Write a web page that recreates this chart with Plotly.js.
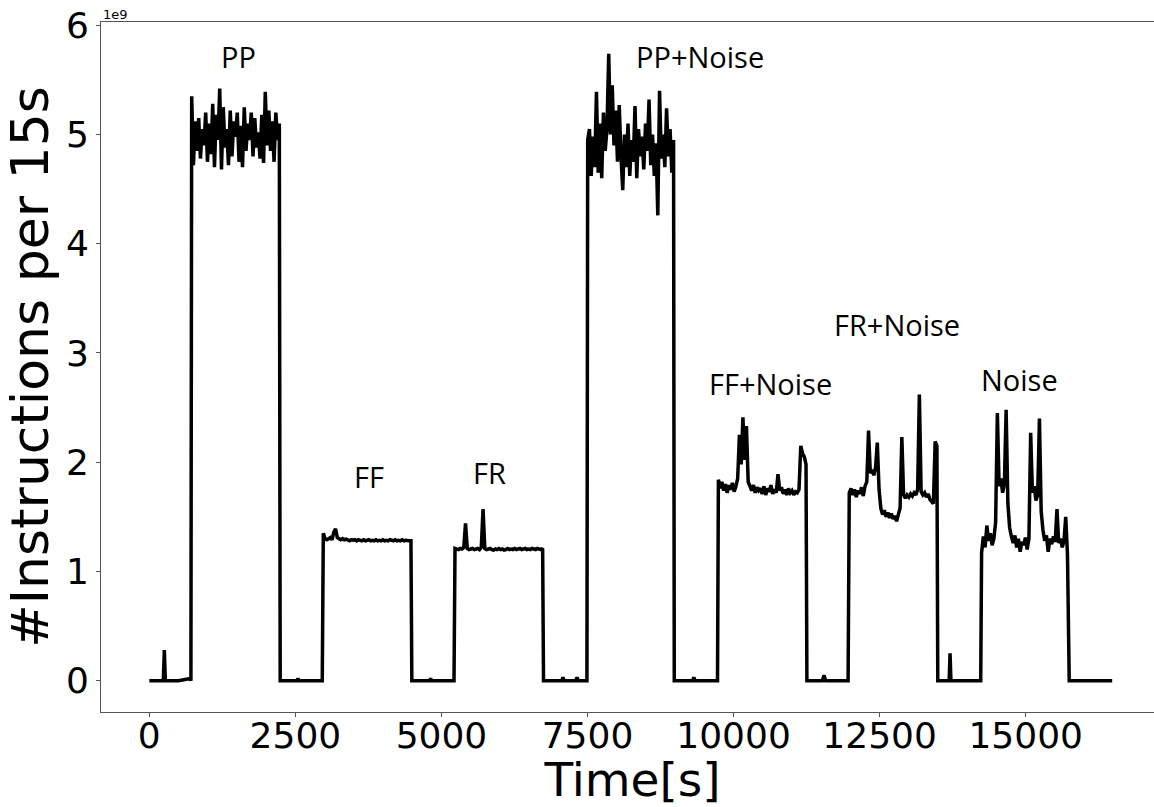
<!DOCTYPE html>
<html>
<head>
<meta charset="utf-8">
<script src="https://cdn.plot.ly/plotly-3.0.1.min.js"></script>
<style>
html, body { margin: 0; padding: 0; overflow: hidden; background: #fff; }
#chart { width: 1170px; height: 807px; }
</style>
</head>
<body>
<div id="chart"></div>
<script>
// ---- data (values in units of 1e9 instructions per 15 s) ----
const xTickVals = [0, 2500, 5000, 7500, 10000, 12500, 15000];
const xTickText = ["0", "2500", "5000", "7500", "10000", "12500", "15000"];
const yTickVals = [0, 1, 2, 3, 4, 5, 6];
const yTickText = ["0", "1", "2", "3", "4", "5", "6"];

const idle0Time = [0, 240, 257, 274, 500, 700, 712];
const idle0Vals = [0, 0, 0.28, 0, 0, 0.02, 0];

const ppStart = 725, ppStep = 30;
const ppVals = [5.35, 4.72, 5.12, 4.85, 5.15, 4.78, 5.05, 4.90, 5.20, 4.75, 5.10, 4.82, 5.28, 4.70, 5.18, 4.95,
  5.42, 4.68, 5.25, 4.88, 5.05, 4.72, 5.22, 4.80, 5.12, 4.98, 5.20, 4.75, 5.08, 4.70, 5.25, 4.85,
  5.10, 4.95, 5.20, 4.80, 5.15, 4.88, 5.02, 4.78, 5.18, 4.74, 5.39, 4.90, 5.22, 4.85, 5.12, 4.75,
  5.20, 4.95, 5.10];

const idle1Time = [2240, 2530, 2545, 2560, 2960];
const idle1Vals = [0, 0, 0.02, 0, 0];

const ffStart = 2978, ffStep = 30;
const ffVals = [1.35, 1.30, 1.29, 1.30, 1.31, 1.29, 1.36, 1.39, 1.31, 1.30, 1.29, 1.30, 1.29, 1.295, 1.29, 1.28,
  1.29, 1.285, 1.29, 1.28, 1.29, 1.285, 1.28, 1.29, 1.28, 1.285, 1.29, 1.28, 1.285, 1.28, 1.29, 1.28,
  1.285, 1.28, 1.29, 1.28, 1.285, 1.28, 1.29, 1.285, 1.28, 1.29, 1.28, 1.285, 1.28, 1.29, 1.28,
  1.285, 1.28, 1.28, 1.28];

const idle2Time = [4493, 4800, 4815, 4830, 5215];
const idle2Vals = [0, 0, 0.02, 0, 0];

const frStart = 5232, frStep = 30;
const frVals = [1.21, 1.205, 1.20, 1.21, 1.205, 1.22, 1.44, 1.21, 1.20, 1.205, 1.21, 1.20, 1.205, 1.21, 1.20, 1.22,
  1.57, 1.21, 1.20, 1.205, 1.21, 1.20, 1.195, 1.205, 1.20, 1.21, 1.20, 1.205, 1.195, 1.20, 1.21, 1.20,
  1.205, 1.20, 1.21, 1.20, 1.205, 1.21, 1.20, 1.205, 1.21, 1.20, 1.205, 1.20, 1.21, 1.205, 1.20,
  1.21, 1.205, 1.20, 1.21];

const idle3Time = [6747, 7060, 7080, 7100, 7300, 7320, 7340, 7490];
const idle3Vals = [0, 0, 0.03, 0, 0, 0.03, 0, 0];

const ppnStart = 7503, ppnStep = 30;
const ppnVals = [4.95, 5.05, 4.62, 4.98, 4.70, 5.39, 4.65, 5.10, 4.60, 5.20, 4.85, 5.05, 5.74, 5.00, 5.45, 4.90,
  5.22, 4.75, 5.27, 4.80, 4.49, 5.00, 4.70, 5.10, 4.62, 4.95, 4.75, 5.26, 4.60, 5.05, 4.80, 4.98,
  4.68, 5.10, 4.85, 5.32, 4.72, 5.00, 4.62, 4.92, 4.26, 5.40, 4.78, 5.00, 4.70, 5.24, 4.80, 5.05,
  4.65, 4.95];

const idle4Time = [8985, 9300, 9320, 9340, 9700, 9725];
const idle4Vals = [0, 0, 0.03, 0, 0, 0];

const ffnStart = 9740, ffnStep = 30;
const ffnVals = [1.84, 1.76, 1.82, 1.74, 1.80, 1.72, 1.79, 1.75, 1.81, 1.73, 1.78, 1.85, 2.25, 1.98, 2.41, 2.02,
  2.33, 1.82, 1.78, 1.74, 1.79, 1.72, 1.77, 1.74, 1.76, 1.71, 1.78, 1.70, 1.76, 1.73, 1.79, 1.71,
  1.75, 1.72, 1.89, 1.74, 1.77, 1.71, 1.75, 1.70, 1.76, 1.72, 1.74, 1.70, 1.73, 1.72, 1.75, 2.15,
  2.08, 2.05, 1.98];

const idle5Time = [11255, 11520, 11548, 11575, 11960];
const idle5Vals = [0, 0, 0.05, 0, 0];

const frnStart = 11980, frnStep = 30;
const frnVals = [1.72, 1.76, 1.70, 1.75, 1.68, 1.74, 1.71, 1.77, 1.69, 1.78, 1.82, 2.29, 1.90, 1.93, 1.88, 1.95,
  2.18, 1.75, 1.58, 1.52, 1.56, 1.50, 1.54, 1.49, 1.53, 1.48, 1.51, 1.46, 1.52, 1.58, 2.23, 1.70,
  1.67, 1.70, 1.68, 1.71, 1.69, 1.72, 1.70, 1.75, 2.62, 1.73, 1.70, 1.72, 1.68, 1.71, 1.66, 1.64,
  1.62, 2.19, 2.15];

const idle6Time = [13495, 13690, 13705, 13720, 14230];
const idle6Vals = [0, 0, 0.25, 0, 0];

const noiseStart = 14245, noiseStep = 30;
const noiseVals = [1.17, 1.32, 1.22, 1.42, 1.28, 1.35, 1.24, 1.30, 1.45, 2.45, 1.78, 1.85, 1.72, 1.80, 2.48, 1.62,
  1.40, 1.32, 1.26, 1.33, 1.22, 1.30, 1.18, 1.27, 1.24, 1.31, 1.20, 1.30, 2.27, 1.72, 1.78, 1.65,
  1.70, 2.40, 1.55, 1.38, 1.28, 1.33, 1.18, 1.30, 1.25, 1.32, 1.27, 1.57, 1.26, 1.30, 1.22, 1.28,
  1.50, 1.15];

const idle7Time = [15745, 16480];
const idle7Vals = [0, 0];

const labelText = ["PP", "FF", "FR", "PP+Noise", "FF+Noise", "FR+Noise", "Noise"];
const labelTime = [1518, 3760, 5814, 9425, 10640, 12796, 14901];
const labelLevel = [5.71, 1.87, 1.91, 5.71, 2.72, 3.26, 2.76];

// ---- assemble series ----
function sampled(start, step, vals) {
  return vals.map((v, i) => start + i * step);
}
const time = [].concat(
  idle0Time, sampled(ppStart, ppStep, ppVals),
  idle1Time, sampled(ffStart, ffStep, ffVals),
  idle2Time, sampled(frStart, frStep, frVals),
  idle3Time, sampled(ppnStart, ppnStep, ppnVals),
  idle4Time, sampled(ffnStart, ffnStep, ffnVals),
  idle5Time, sampled(frnStart, frnStep, frnVals),
  idle6Time, sampled(noiseStart, noiseStep, noiseVals),
  idle7Time);
const instr = [].concat(
  idle0Vals, ppVals, idle1Vals, ffVals, idle2Vals, frVals, idle3Vals, ppnVals,
  idle4Vals, ffnVals, idle5Vals, frnVals, idle6Vals, noiseVals, idle7Vals);

const trace = {
  x: time, y: instr, type: "scatter", mode: "lines",
  line: { color: "#000000", width: 3.5 },
  hoverinfo: "x+y"
};

const annotations = labelText.map((t, i) => ({
  x: labelTime[i], y: labelLevel[i], xref: "x", yref: "y",
  text: t, showarrow: false, xanchor: "center", yanchor: "middle",
  font: { family: "Open Sans, sans-serif", size: 29, color: "#000" }
}));
annotations.push({
  x: 0, y: 1, xref: "paper", yref: "paper", xanchor: "left", yanchor: "bottom",
  text: "1e9", showarrow: false, xshift: 0, yshift: -2,
  font: { family: "DejaVu Sans, sans-serif", size: 13, color: "#000" }
});

const axisFont = { family: "DejaVu Sans, sans-serif", size: 36, color: "#000" };

const layout = {
  width: 1170, height: 807,
  margin: { l: 101, r: 6, t: 22, b: 95, pad: 0 },
  paper_bgcolor: "#fff", plot_bgcolor: "#fff",
  showlegend: false,
  xaxis: {
    range: [-827, 17367],
    tickmode: "array", tickvals: xTickVals, ticktext: xTickText,
    ticks: "outside", ticklen: 4, tickwidth: 1, tickcolor: "#555",
    ticklabelposition: "outside",
    ticklabelstandoff: -12,
    showline: true, linecolor: "#555", linewidth: 1, mirror: true,
    showgrid: false, zeroline: false,
    tickfont: axisFont,
    title: { text: "Time[s]", font: { family: "DejaVu Sans, sans-serif", size: 47, color: "#000" }, standoff: 12 }
  },
  yaxis: {
    range: [-0.287, 6.03],
    tickmode: "array", tickvals: yTickVals, ticktext: yTickText,
    ticks: "outside", ticklen: 4, tickwidth: 1, tickcolor: "#555",
    showline: true, linecolor: "#555", linewidth: 1, mirror: true,
    showgrid: false, zeroline: false,
    tickfont: axisFont,
    title: { text: "#Instructions per 15s", font: { family: "DejaVu Sans, sans-serif", size: 52, color: "#000" }, standoff: 10 }
  },
  annotations: annotations
};

Plotly.newPlot("chart", [trace], layout, { displayModeBar: false, staticPlot: true });
</script>
</body>
</html>
